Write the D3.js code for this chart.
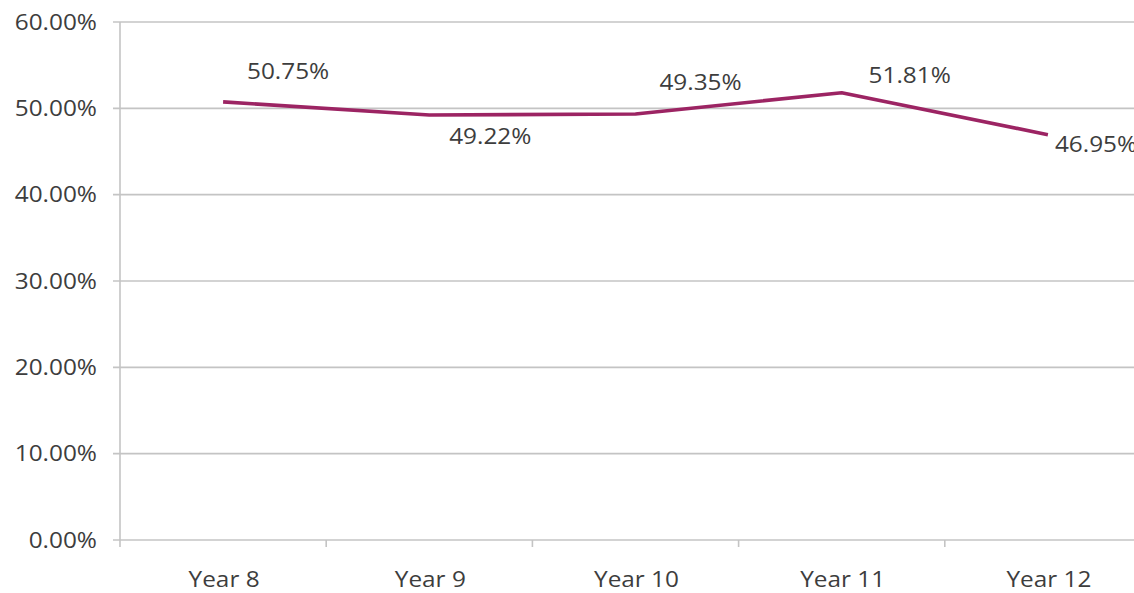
<!DOCTYPE html>
<html>
<head>
<meta charset="utf-8">
<script src="https://cdn.jsdelivr.net/npm/d3@7"></script>
<style>
  html, body { margin: 0; padding: 0; background: #fff; }
  svg { display: block; }
  text { font-family: "Open Sans", "Noto Sans", sans-serif; }
</style>
</head>
<body>
<svg id="chart" width="1134" height="593"></svg>
<script>
// Share of students by school year
const categories = ["Year 8", "Year 9", "Year 10", "Year 11", "Year 12"];
const values = [50.75, 49.22, 49.35, 51.81, 46.95];
const yTicks = [0, 10, 20, 30, 40, 50, 60];

// Label placement relative to each point: [dx, dy, anchor]
const labelPlacement = [
  [65, -30, "middle"],
  [61, 21, "middle"],
  [65, -32, "middle"],
  [68, -17, "middle"],
  [7, 10, "start"]
];

const svg = d3.select("#chart");
const plotLeft = 120, plotRight = 1151, plotTop = 22, plotBottom = 540;

const x = d3.scaleBand().domain(categories).range([plotLeft, plotRight]);
const y = d3.scaleLinear().domain([0, 60]).range([plotBottom, plotTop]);

const grid = "#c4c4c4";
const textColor = "#3d3d3d";
const fontSize = 21;
const stretch = 1.16;

// Places a text element at (px, py) with a slight horizontal stretch
function placeText(sel, px, py) {
  sel.attr("transform", (d, i) => `translate(${px(d, i)},${py(d, i)}) scale(${stretch},1)`)
    .attr("dy", "0.36em")
    .attr("fill", textColor)
    .attr("font-size", fontSize);
}

// Horizontal gridlines
svg.append("g")
  .selectAll("line")
  .data(yTicks)
  .join("line")
  .attr("x1", plotLeft - 7)
  .attr("x2", plotRight)
  .attr("y1", d => y(d))
  .attr("y2", d => y(d))
  .attr("stroke", grid)
  .attr("stroke-width", 1.6);

// Y axis line
svg.append("line")
  .attr("x1", plotLeft).attr("x2", plotLeft)
  .attr("y1", y(60)).attr("y2", plotBottom + 7)
  .attr("stroke", grid).attr("stroke-width", 1.6);

// Y tick labels
svg.append("g")
  .selectAll("text")
  .data(yTicks)
  .join("text")
  .call(placeText, () => 97, d => y(d))
  .attr("text-anchor", "end")
  .text(d => d3.format(".2f")(d) + "%");

// X tick marks at band boundaries
const boundaries = categories.slice(1).map(c => x(c)).concat([plotRight]);
svg.append("g")
  .selectAll("line")
  .data(boundaries)
  .join("line")
  .attr("x1", d => d).attr("x2", d => d)
  .attr("y1", plotBottom).attr("y2", plotBottom + 7)
  .attr("stroke", grid).attr("stroke-width", 1.6);

// X category labels
svg.append("g")
  .selectAll("text")
  .data(categories)
  .join("text")
  .call(placeText, d => x(d) + x.bandwidth() / 2 + 1, () => 579)
  .attr("text-anchor", "middle")
  .text(d => d);

const cx = (d, i) => x(categories[i]) + x.bandwidth() / 2;

// Series line
const line = d3.line()
  .x((d, i) => cx(d, i))
  .y(d => y(d));

svg.append("path")
  .datum(values)
  .attr("d", line)
  .attr("fill", "none")
  .attr("stroke", "#9c2463")
  .attr("stroke-width", 3.6)
  .attr("stroke-linejoin", "round");

// Value labels
svg.append("g")
  .selectAll("text")
  .data(values)
  .join("text")
  .call(placeText,
        (d, i) => cx(d, i) + labelPlacement[i][0],
        (d, i) => y(d) + labelPlacement[i][1])
  .attr("text-anchor", (d, i) => labelPlacement[i][2])
  .text(d => d3.format(".2f")(d) + "%");
</script>
</body>
</html>
